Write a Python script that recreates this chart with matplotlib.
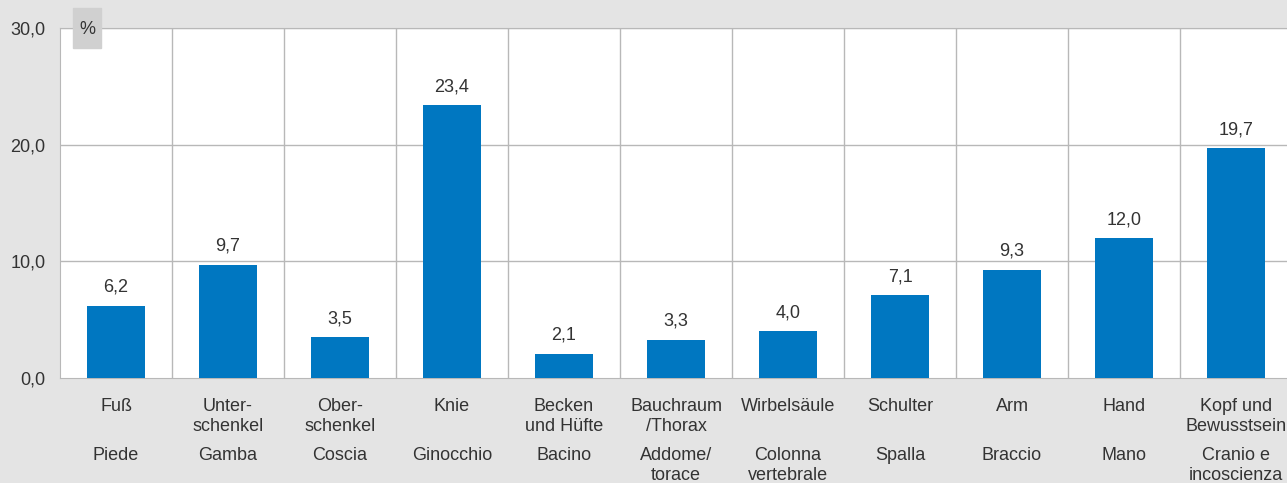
import matplotlib.pyplot as plt

plt.rcParams['font.family'] = ['Liberation Sans', 'DejaVu Sans']

labels_de = ['Fuß', 'Unter-\nschenkel', 'Ober-\nschenkel', 'Knie', 'Becken\nund Hüfte',
             'Bauchraum\n/Thorax', 'Wirbelsäule', 'Schulter', 'Arm', 'Hand',
             'Kopf und\nBewusstsein']
labels_it = ['Piede', 'Gamba', 'Coscia', 'Ginocchio', 'Bacino', 'Addome/\ntorace',
             'Colonna\nvertebrale', 'Spalla', 'Braccio', 'Mano', 'Cranio e\nincoscienza']
values = [6.2, 9.7, 3.5, 23.4, 2.1, 3.3, 4.0, 7.1, 9.3, 12.0, 19.7]
yticks = [0, 10, 20, 30]

bg = '#e4e4e4'
grid = '#b8b8b8'
txt = '#333333'
fs = 13

fig = plt.figure(figsize=(12.87, 4.83), dpi=100, facecolor=bg)
ax = fig.add_axes([60 / 1287, 1 - 378 / 483, 1232 / 1287, 350 / 483])
ax.set_facecolor('white')

x = range(len(values))
ax.bar(x, values, width=0.52, color='#0077c1', zorder=3)
for i, v in enumerate(values):
    ax.text(i, v + 0.85, f'{v:.1f}'.replace('.', ','), ha='center', va='bottom',
            fontsize=fs, color=txt)

ax.set_xlim(-0.5, len(values) - 0.5)
ax.set_ylim(0, 30)
ax.set_yticks(yticks)
ax.set_yticklabels([f'{t:.1f}'.replace('.', ',') for t in yticks], fontsize=fs, color=txt)
ax.tick_params(axis='y', length=0, pad=10.5)
ax.tick_params(axis='x', length=0, labelbottom=False)

for t in yticks[1:]:
    ax.axhline(t, color=grid, lw=1, zorder=1)
for i in range(1, len(values)):
    ax.axvline(i - 0.5, color=grid, lw=1, zorder=1)

for s in ax.spines.values():
    s.set_visible(False)
for side in ['left', 'bottom', 'top']:
    ax.spines[side].set_visible(True)
    ax.spines[side].set_color(grid)

trans = ax.get_xaxis_transform()
for i, (de, it) in enumerate(zip(labels_de, labels_it)):
    ax.text(i, -0.057, de, transform=trans, ha='center', va='top', fontsize=fs,
            color=txt, linespacing=1.2)
    ax.text(i, -0.198, it, transform=trans, ha='center', va='top', fontsize=fs,
            color=txt, linespacing=1.2)

# "%" label in a grey box
fig.patches.append(plt.Rectangle((73 / 1287, 1 - 48 / 483), 28 / 1287, 40 / 483,
                                 transform=fig.transFigure, color='#d0d0d0', zorder=5))
fig.text(87 / 1287, 1 - 29 / 483, '%', ha='center', va='center', fontsize=fs,
         color=txt, zorder=6)

fig.savefig('out.png', dpi=100, facecolor=bg)
